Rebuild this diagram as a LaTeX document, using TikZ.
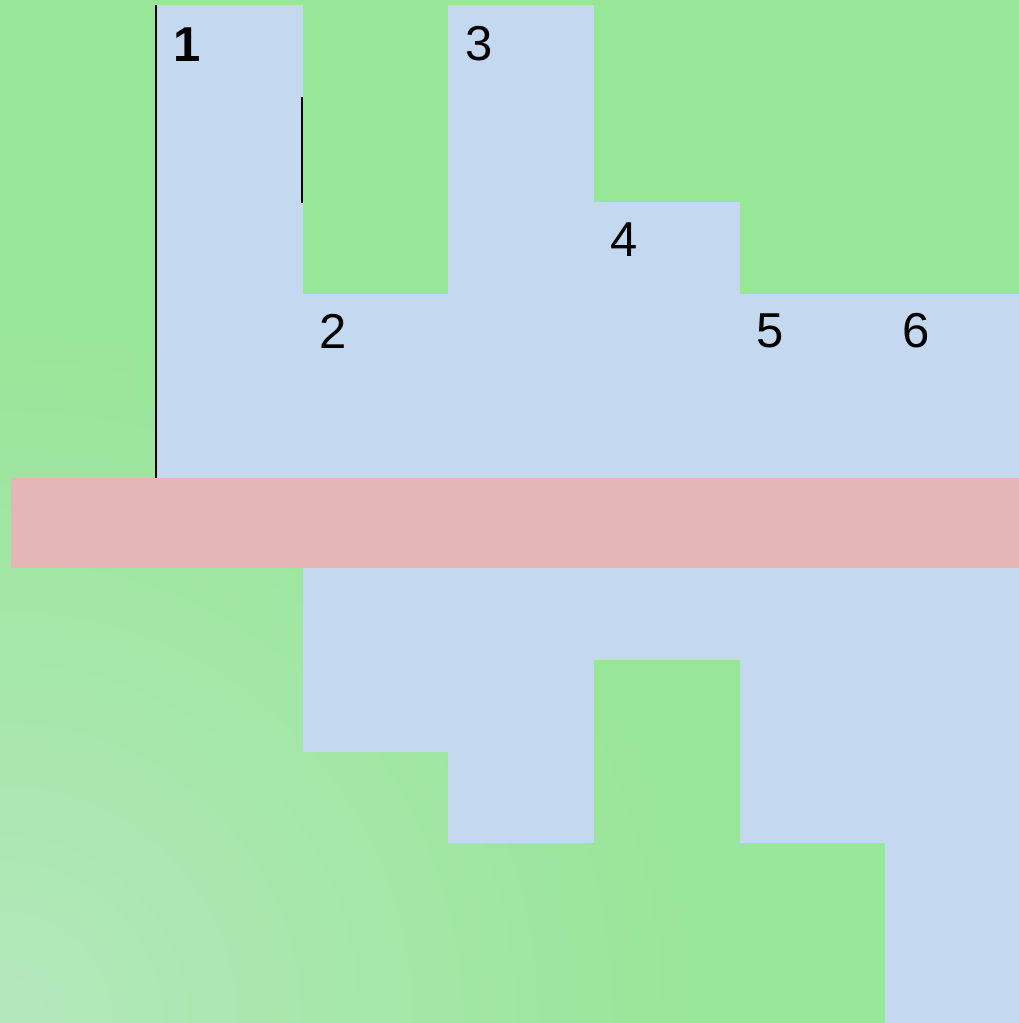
\documentclass[tikz,border=0pt]{standalone}
\usepackage{fontspec}
\setmainfont{Liberation Sans}
\definecolor{bggreen}{RGB}{152,230,152}
\definecolor{lightgreen}{RGB}{180,232,188}
\definecolor{cellblue}{RGB}{196,216,240}
\definecolor{bandred}{RGB}{228,183,183}
\begin{document}
\begin{tikzpicture}[x=1pt,y=-1pt,
  cell/.style={fill=cellblue,draw=none},
  band/.style={fill=bandred,draw=none},
  edge/.style={draw=black,line width=2.6pt},
  lbl/.style={inner sep=0pt,font=\fontsize{49}{58}\selectfont}]
\useasboundingbox (0,0) rectangle (1019,1023);
\fill[bggreen] (0,0) rectangle (1019,1023);
\begin{scope}
\clip (0,0) rectangle (1019,1023);
\shade[inner color=lightgreen,outer color=bggreen] (0,1023) circle (700);
\end{scope}
% top cells
\fill[cell] (157,5) rectangle (303,478);
\fill[cell] (303,294) rectangle (448,478);
\fill[cell] (448,5) rectangle (594,478);
\fill[cell] (594,202) rectangle (740,478);
\fill[cell] (740,294) rectangle (885,478);
\fill[cell] (885,294) rectangle (1019,478);
% band
\fill[band] (11,478) rectangle (1019,568);
% bottom cells
\fill[cell] (303,568) rectangle (448,752);
\fill[cell] (448,568) rectangle (594,843);
\fill[cell] (594,568) rectangle (740,660);
\fill[cell] (740,568) rectangle (885,843);
\fill[cell] (885,568) rectangle (1019,1023);
% lines
\coordinate (l1a) at (156,5);
\coordinate (l1b) at (156,478);
\coordinate (l2a) at (302,97);
\coordinate (l2b) at (302,203);
\draw[edge] (l1a) -- (l1b);
\draw[edge] (l2a) -- (l2b);
% labels
\node[lbl,font=\fontsize{49}{58}\selectfont\bfseries] (n1) at (187,45) {1};
\node[lbl] (n2) at (333,331) {2};
\node[lbl] (n3) at (479,44) {3};
\node[lbl] (n4) at (624,240) {4};
\node[lbl] (n5) at (770,331) {5};
\node[lbl] (n6) at (916,331) {6};
\end{tikzpicture}
\end{document}
